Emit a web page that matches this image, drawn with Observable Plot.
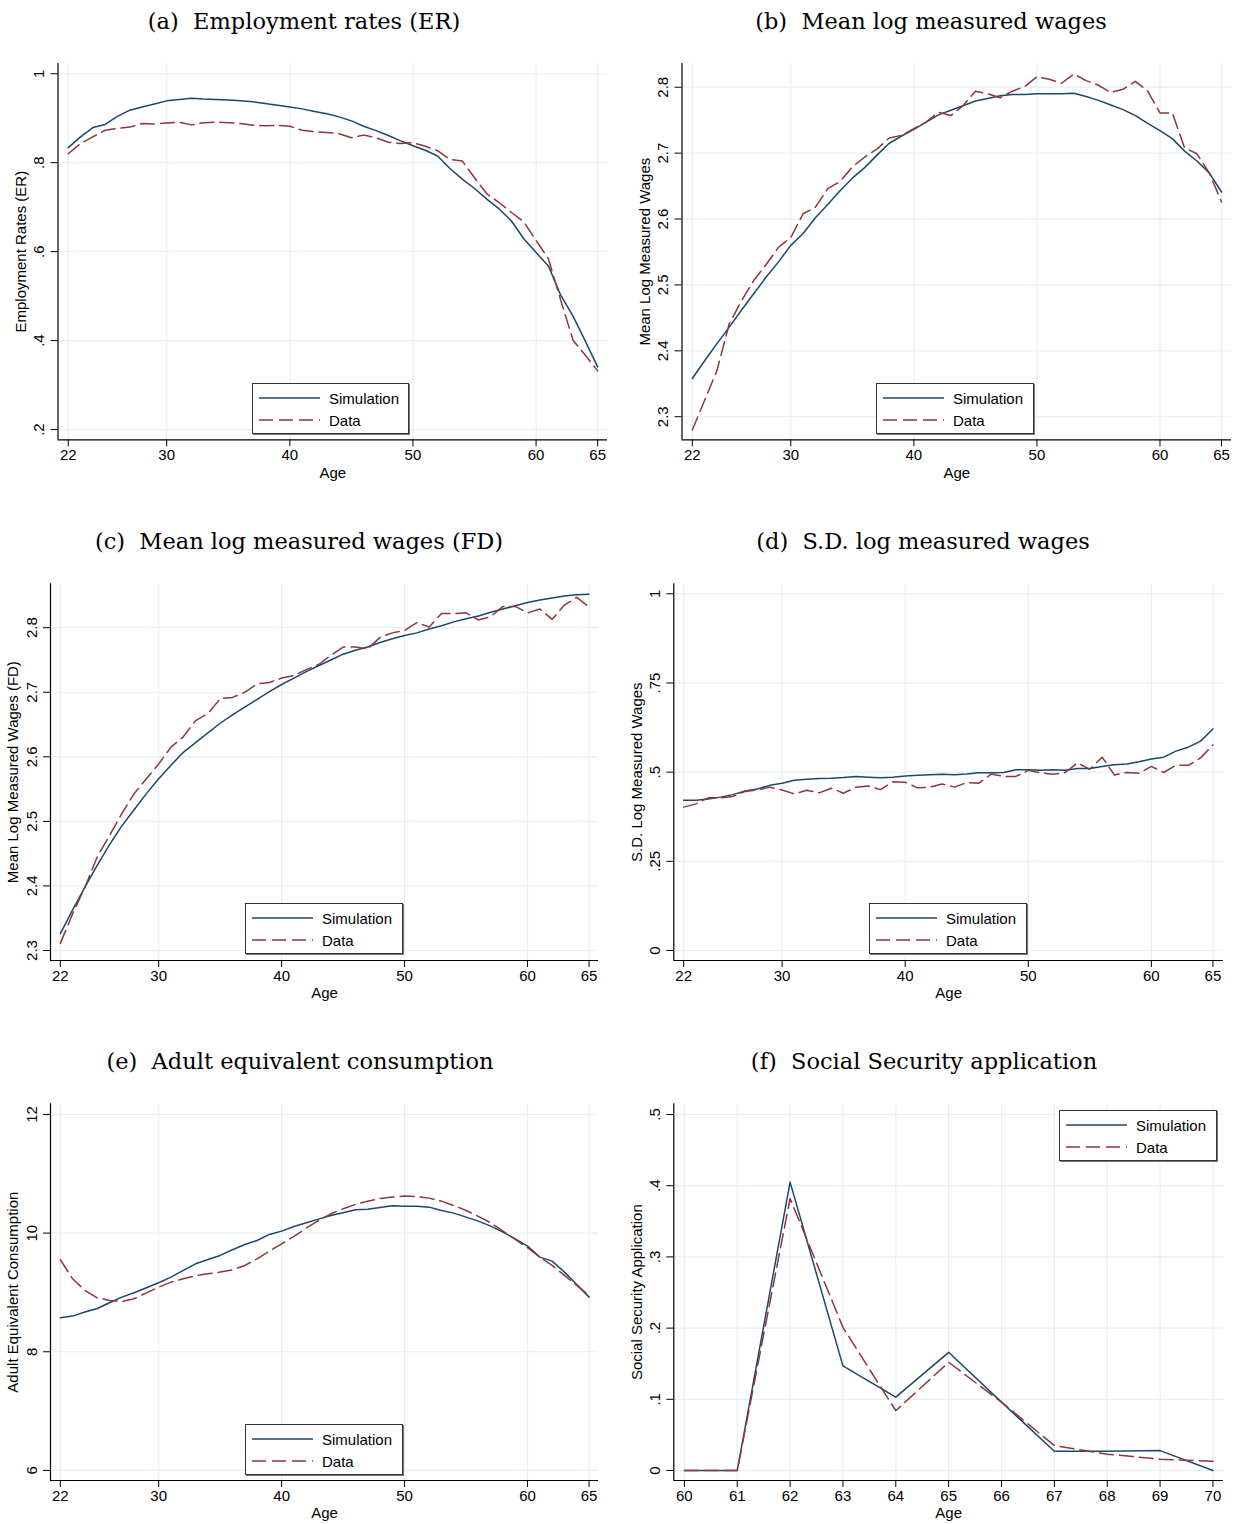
<!DOCTYPE html>
<html>
<head>
<meta charset="utf-8">
<script src="https://cdn.jsdelivr.net/npm/d3@7"></script>
<script src="https://cdn.jsdelivr.net/npm/@observablehq/plot@0.6"></script>
<style>
  body { margin: 0; background: #fff; }
  #page { position: relative; width: 1236px; height: 1524px; overflow: hidden; background: #fff;
          font-family: "Liberation Sans", Arial, sans-serif; color: #000; }
  .title { position: absolute; font-family: "DejaVu Serif", serif; font-size: 22.5px; white-space: pre;
           transform: translate(-50%, -50%); color: #000; }
  .panel { position: absolute; }
  .legend { position: absolute; border: 1px solid #333; box-shadow: 1px 1px 0 #777; background: #fff;
            font-size: 15px; box-sizing: border-box; }
  .legend .row { position: absolute; left: 0; height: 22px; display: flex; align-items: center; }
  .legend svg { display: block; }
  .legend span { margin-left: 9px; white-space: nowrap; }
</style>
</head>
<body>
<div id="page"></div>
<script>
// ---------- data ----------
const ages = [22,23,24,25,26,27,28,29,30,31,32,33,34,35,36,37,38,39,40,41,42,43,
              44,45,46,47,48,49,50,51,52,53,54,55,56,57,58,59,60,61,62,63,64,65];
const ssAges = [60,61,62,63,64,65,66,67,68,69,70];

const erSim = [0.834,0.858,0.879,0.886,0.904,0.918,0.925,0.932,0.939,0.942,0.945,0.943,0.942,0.941,0.939,
               0.937,0.933,0.929,0.925,0.921,0.915,0.910,0.903,0.894,0.882,0.872,0.861,0.849,0.838,0.828,
               0.815,0.787,0.763,0.742,0.718,0.696,0.669,0.629,0.598,0.568,0.502,0.455,0.399,0.341];
const erData = [0.820,0.843,0.858,0.873,0.877,0.880,0.888,0.887,0.889,0.891,0.885,0.890,0.891,0.890,0.888,
                0.884,0.883,0.884,0.882,0.873,0.870,0.868,0.865,0.856,0.862,0.856,0.846,0.843,0.845,0.837,
                0.827,0.807,0.804,0.766,0.730,0.710,0.688,0.667,0.625,0.584,0.491,0.401,0.367,0.332];

const wageSim = [2.358,2.385,2.411,2.436,2.462,2.487,2.512,2.535,2.560,2.578,2.602,2.622,2.643,2.662,2.678,
                 2.697,2.715,2.726,2.736,2.747,2.758,2.765,2.772,2.779,2.783,2.787,2.789,2.789,2.790,2.790,
                 2.790,2.791,2.786,2.780,2.773,2.766,2.757,2.745,2.734,2.722,2.703,2.688,2.670,2.641];
const wageData = [2.280,2.325,2.370,2.441,2.476,2.507,2.531,2.557,2.572,2.608,2.618,2.646,2.657,2.679,2.694,
                  2.706,2.723,2.727,2.737,2.747,2.762,2.757,2.772,2.794,2.790,2.784,2.794,2.801,2.816,2.812,
                  2.806,2.820,2.810,2.803,2.792,2.797,2.809,2.794,2.761,2.761,2.708,2.699,2.670,2.626];

const wageFdSim = [2.326,2.363,2.398,2.432,2.464,2.493,2.518,2.543,2.566,2.587,2.607,2.622,2.637,2.652,2.665,
                   2.677,2.689,2.701,2.712,2.722,2.732,2.741,2.750,2.759,2.765,2.770,2.777,2.783,2.788,2.792,
                   2.798,2.803,2.809,2.814,2.818,2.824,2.829,2.834,2.839,2.843,2.846,2.849,2.851,2.852];
const wageFdData = [2.311,2.357,2.398,2.445,2.478,2.512,2.543,2.566,2.589,2.615,2.631,2.656,2.667,2.690,2.692,
                    2.700,2.713,2.715,2.722,2.726,2.735,2.743,2.757,2.770,2.770,2.767,2.785,2.792,2.796,2.808,
                    2.801,2.822,2.822,2.823,2.812,2.817,2.833,2.833,2.823,2.829,2.813,2.835,2.847,2.832];

const sdSim = [0.421,0.421,0.425,0.430,0.437,0.447,0.453,0.463,0.469,0.477,0.480,0.482,0.483,0.485,0.488,
               0.486,0.484,0.486,0.489,0.491,0.493,0.494,0.493,0.495,0.498,0.498,0.499,0.507,0.507,0.505,
               0.507,0.505,0.510,0.510,0.516,0.521,0.523,0.529,0.537,0.542,0.559,0.570,0.587,0.621];
const sdData = [0.402,0.411,0.428,0.428,0.432,0.446,0.450,0.458,0.450,0.439,0.449,0.442,0.455,0.441,0.458,
                0.461,0.451,0.473,0.472,0.456,0.458,0.467,0.458,0.471,0.469,0.495,0.488,0.488,0.505,0.498,
                0.494,0.499,0.526,0.508,0.542,0.492,0.499,0.497,0.516,0.499,0.519,0.519,0.540,0.576];

const consSim = [8.573,8.601,8.669,8.730,8.826,8.921,8.994,9.079,9.163,9.258,9.371,9.483,9.556,9.624,9.719,
                 9.809,9.876,9.978,10.034,10.112,10.174,10.236,10.298,10.343,10.393,10.404,10.433,10.461,10.455,10.455,
                 10.438,10.382,10.337,10.270,10.202,10.118,10.017,9.904,9.781,9.596,9.528,9.343,9.135,8.921];
const consData = [9.551,9.230,9.034,8.910,8.865,8.848,8.893,8.994,9.090,9.174,9.230,9.281,9.315,9.343,9.382,
                  9.455,9.567,9.697,9.820,9.944,10.084,10.213,10.326,10.410,10.483,10.539,10.584,10.607,10.624,10.618,
                  10.590,10.539,10.466,10.382,10.281,10.174,10.034,9.893,9.753,9.596,9.455,9.287,9.118,8.949];

const ssSim  = [0, 0, 0.405, 0.147, 0.103, 0.166, 0.096, 0.027, 0.027, 0.028, 0];
const ssData = [0, 0, 0.382, 0.201, 0.084, 0.152, 0.096, 0.035, 0.023, 0.016, 0.013];

const titles = ["(a)  Employment rates (ER)", "(b)  Mean log measured wages",
                "(c)  Mean log measured wages (FD)", "(d)  S.D. log measured wages",
                "(e)  Adult equivalent consumption", "(f)  Social Security application"];
const yLabels = ["Employment Rates (ER)", "Mean Log Measured Wages", "Mean Log Measured Wages (FD)",
                 "S.D. Log Measured Wages", "Adult Equivalent Consumption", "Social Security Application"];
const xLabel = "Age";
const seriesNames = ["Simulation", "Data"];

const xTicksAge = [22, 30, 40, 50, 60, 65];
const xTicksSS = [60, 61, 62, 63, 64, 65, 66, 67, 68, 69, 70];
const yTicksER = [0.2, 0.4, 0.6, 0.8, 1];
const yTicksWage = [2.3, 2.4, 2.5, 2.6, 2.7, 2.8];
const yTicksSD = [0, 0.25, 0.5, 0.75, 1];
const yTicksCons = [6, 8, 10, 12];
const yTicksSS = [0, 0.1, 0.2, 0.3, 0.4, 0.5];

// ---------- style ----------
const NAVY = "#1a476f";
const MAROON = "#90353b";
const GRID = "#e6eff1";
const DASH = "14,6";
const fmt = d => { const s = String(+d.toFixed(3)); return s.replace(/^0\./, ".").replace(/^-0\./, "-."); };

// layout: svg box (sx, sy, sw, sh), plot frame (L, R, T, B), legend box, title center
const panels = [
  {x: ages, sim: erSim, data: erData, xt: xTicksAge, yt: yTicksER, xd: [21.17, 65.8], yd: [0.177, 1.023],
   sx: 0, sy: 45, sw: 618, sh: 445, L: 57.5, R: 607, T: 63, B: 439.3, lg: [252, 383, 157, 51], tc: [304, 21]},
  {x: ages, sim: wageSim, data: wageData, xt: xTicksAge, yt: yTicksWage, xd: [21.16, 65.81], yd: [2.265, 2.836],
   sx: 618, sy: 45, sw: 618, sh: 445, L: 681.5, R: 1231, T: 63, B: 439.3, lg: [876, 383, 158, 51], tc: [931, 21]},
  {x: ages, sim: wageFdSim, data: wageFdData, xt: xTicksAge, yt: yTicksWage, xd: [21.2, 65.77], yd: [2.2845, 2.868],
   sx: 0, sy: 565, sw: 618, sh: 445, L: 50, R: 598, T: 583.3, B: 960, lg: [245, 903, 158, 51], tc: [299, 541]},
  {x: ages, sim: sdSim, data: sdData, xt: xTicksAge, yt: yTicksSD, xd: [21.2, 65.86], yd: [-0.028, 1.028],
   sx: 618, sy: 565, sw: 618, sh: 445, L: 673.3, R: 1223, T: 583.3, B: 960, lg: [869, 903, 158, 51], tc: [923, 541]},
  {x: ages, sim: consSim, data: consData, xt: xTicksAge, yt: yTicksCons, xd: [21.2, 65.77], yd: [5.83, 12.18],
   sx: 0, sy: 1085, sw: 618, sh: 439, L: 50, R: 598, T: 1103.3, B: 1480, lg: [245, 1424, 158, 51], tc: [300, 1061]},
  {x: ssAges, sim: ssSim, data: ssData, xt: xTicksSS, yt: yTicksSS, xd: [59.8, 70.2], yd: [-0.014, 0.515],
   sx: 618, sy: 1085, sw: 618, sh: 439, L: 673.3, R: 1223, T: 1103.3, B: 1480, lg: [1059, 1110, 158, 51], tc: [924, 1061]}
];

const page = document.getElementById("page");

panels.forEach((p, k) => {
  const rows = p.x.map((x, i) => ({x, sim: p.sim[i], data: p.data[i]}));
  const svg = Plot.plot({
    width: p.sw, height: p.sh,
    marginLeft: p.L - p.sx, marginRight: p.sx + p.sw - p.R,
    marginTop: p.T - p.sy, marginBottom: p.sy + p.sh - p.B,
    x: {domain: p.xd, nice: false},
    y: {domain: p.yd, nice: false},
    style: {fontFamily: "'Liberation Sans', Arial, sans-serif", fontSize: "15px", background: "white", overflow: "visible", color: "black"},
    marks: [
      Plot.gridX(p.xt, {stroke: GRID, strokeOpacity: 1, strokeWidth: 1.2}),
      Plot.gridY(p.yt, {stroke: GRID, strokeOpacity: 1, strokeWidth: 1.2}),
      Plot.line(rows, {x: "x", y: "sim", stroke: NAVY, strokeWidth: 1.5}),
      Plot.line(rows, {x: "x", y: "data", stroke: MAROON, strokeWidth: 1.5, strokeDasharray: DASH}),
      Plot.ruleX([p.xd[0]], {stroke: "black", strokeWidth: 1.2}),
      Plot.ruleY([p.yd[0]], {stroke: "black", strokeWidth: 1.2}),
      Plot.axisX({ticks: p.xt, tickSize: 7, tickPadding: 3, label: null, tickFormat: d => String(d), fontSize: 15}),
      Plot.axisY({ticks: p.yt, tickSize: 7, tickPadding: 7, tickRotate: -90, label: null, tickFormat: fmt, fontSize: 15}),
      Plot.text([yLabels[k]], {text: d => d, frameAnchor: "left", dx: -37, rotate: -90, fontSize: 15,
                               textAnchor: "middle", lineAnchor: "middle"}),
      Plot.text([xLabel], {text: d => d, frameAnchor: "bottom", dy: 33, fontSize: 15,
                           textAnchor: "middle", lineAnchor: "middle"})
    ]
  });
  const wrap = document.createElement("div");
  wrap.className = "panel";
  wrap.style.left = p.sx + "px";
  wrap.style.top = p.sy + "px";
  wrap.appendChild(svg);
  page.appendChild(wrap);

  // title
  const t = document.createElement("div");
  t.className = "title";
  t.textContent = titles[k];
  t.style.left = p.tc[0] + "px";
  t.style.top = p.tc[1] + "px";
  page.appendChild(t);

  // legend
  const lg = document.createElement("div");
  lg.className = "legend";
  lg.style.left = p.lg[0] + "px";
  lg.style.top = p.lg[1] + "px";
  lg.style.width = p.lg[2] + "px";
  lg.style.height = p.lg[3] + "px";
  const styles = [{stroke: NAVY, dash: null}, {stroke: MAROON, dash: DASH}];
  seriesNames.forEach((name, j) => {
    const row = document.createElement("div");
    row.className = "row";
    row.style.top = (3 + j * 22) + "px";
    row.style.left = "6px";
    const ns = "http://www.w3.org/2000/svg";
    const s = document.createElementNS(ns, "svg");
    s.setAttribute("width", 61); s.setAttribute("height", 10);
    const ln = document.createElementNS(ns, "line");
    ln.setAttribute("x1", 0); ln.setAttribute("x2", 61); ln.setAttribute("y1", 5); ln.setAttribute("y2", 5);
    ln.setAttribute("stroke", styles[j].stroke); ln.setAttribute("stroke-width", 1.5);
    if (styles[j].dash) ln.setAttribute("stroke-dasharray", styles[j].dash);
    s.appendChild(ln);
    row.appendChild(s);
    const sp = document.createElement("span");
    sp.textContent = name;
    row.appendChild(sp);
    lg.appendChild(row);
  });
  page.appendChild(lg);
});
</script>
</body>
</html>
